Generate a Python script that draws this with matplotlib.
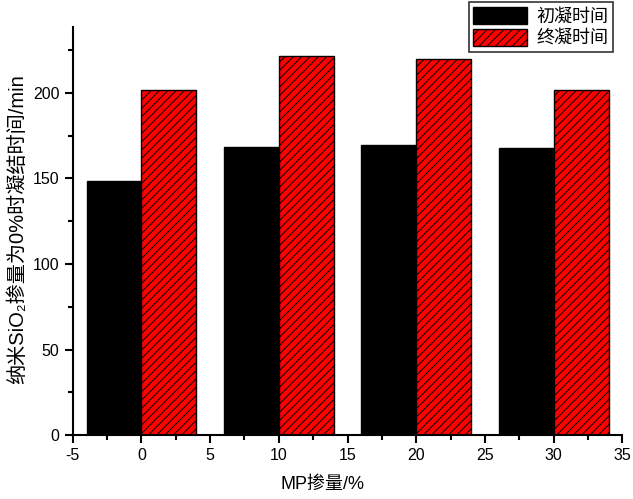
import matplotlib
matplotlib.use('Agg')
import matplotlib.pyplot as plt
from matplotlib.ticker import MultipleLocator
import numpy as np

plt.rcParams['font.family'] = ['Liberation Sans', 'Noto Sans CJK SC', 'DejaVu Sans']
plt.rcParams['hatch.linewidth'] = 0.7
plt.rcParams['axes.unicode_minus'] = False

# data
mp = [0, 10, 20, 30]
initial_set = [148.5, 168.5, 169.5, 168]
final_set = [201.5, 221.5, 219.5, 201.5]
labels = ['初凝时间', '终凝时间']

fig = plt.figure(figsize=(6.33, 4.99), dpi=100)
ax = fig.add_axes([0.115, 0.128, 0.868, 0.818])

x = np.array(mp)
ax.bar(x - 2, initial_set, width=4, color='black', edgecolor='black',
       linewidth=1, label=labels[0])
ax.bar(x + 2, final_set, width=4, color='red', edgecolor='black',
       linewidth=1, hatch='////', label=labels[1])

ax.set_xlim(-5, 35)
ax.set_ylim(0, 238.5)
ax.xaxis.set_major_locator(MultipleLocator(5))
ax.xaxis.set_minor_locator(MultipleLocator(2.5))
ax.yaxis.set_major_locator(MultipleLocator(50))
ax.yaxis.set_minor_locator(MultipleLocator(25))

for s in ['top', 'right']:
    ax.spines[s].set_visible(False)
for s in ['left', 'bottom']:
    ax.spines[s].set_linewidth(1.5)

ax.tick_params(which='major', direction='out', length=6, width=1.5,
               labelsize=11.5)
ax.tick_params(which='minor', direction='out', length=3.5, width=1.5)

ax.set_xlabel('MP掺量/%', fontsize=13)
ax.xaxis.set_label_coords(0.454, -0.1)
ax.set_ylabel('纳米SiO\u2082掺量为0%时凝结时间/min', fontsize=14.5)
ax.yaxis.set_label_coords(-0.083, 0.505)

handles, _ = ax.get_legend_handles_labels()
leg = fig.legend(handles, labels, loc='upper right',
                 bbox_to_anchor=(0.968, 0.995), frameon=True,
                 fancybox=False, edgecolor='black',
                 prop={'family': ['Noto Sans CJK SC'], 'size': 13},
                 handlelength=3.0, handleheight=1.1, borderpad=0.25,
                 labelspacing=0.15, handletextpad=0.5, borderaxespad=0)
leg.get_frame().set_linewidth(1.2)

fig.savefig('out.png', dpi=100)
